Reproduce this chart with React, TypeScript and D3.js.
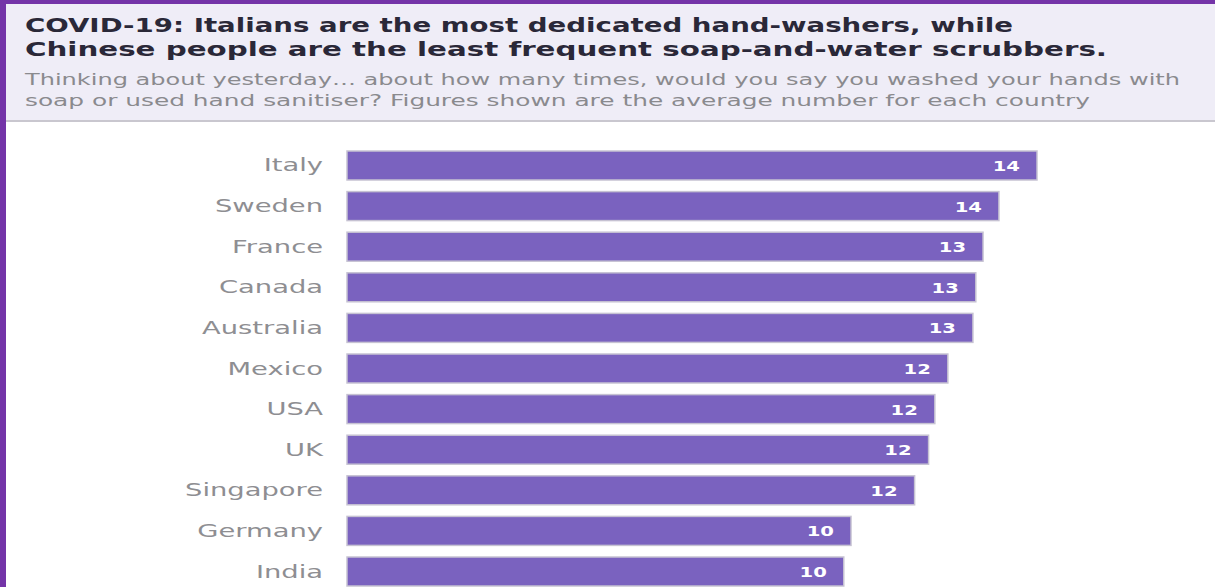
import React from "react";
import * as d3 from "d3";

const countries = ["Italy", "Sweden", "France", "Canada", "Australia", "Mexico", "USA", "UK", "Singapore", "Germany", "India"];
const values = [14.32, 13.53, 13.2, 13.05, 12.99, 12.47, 12.2, 12.07, 11.78, 10.46, 10.31];
const titleLines = [
  "COVID-19: Italians are the most dedicated hand-washers, while",
  "Chinese people are the least frequent soap-and-water scrubbers.",
];
const subtitleLines = [
  "Thinking about yesterday\u2026 about how many times, would you say you washed your hands with",
  "soap or used hand sanitiser? Figures shown are the average number for each country",
];

const W = 1215;
const H = 587;

export default function App() {
  const x = d3.scaleLinear().domain([0, d3.max(values) as number]).range([347, 1037]);
  const y = d3
    .scaleBand<string>()
    .domain(countries)
    .range([151, 586])
    .paddingInner(0.286)
    .paddingOuter(0);
  const bw = y.bandwidth();
  const titleLen = [988, 1082];
  const subLen = [1155, 1065];
  return (
    <div style={{ position: "absolute", left: 0, top: 0 }}>
      <svg width={W} height={H} style={{ display: "block", background: "#ffffff" }}>
        <rect x={0} y={0} width={W} height={121} fill="#efedf7" />
        <rect x={0} y={120} width={W} height={2} fill="#c9c7cf" />
        <rect x={0} y={0} width={W} height={4} fill="#7434a8" />
        <rect x={0} y={0} width={6} height={H} fill="#7434a8" />
        {titleLines.map((t, i) => (
          <text
            key={t}
            x={25}
            y={32 + i * 24}
            fontFamily="DejaVu Sans"
            fontWeight="bold"
            fontSize={20}
            fill="#2a2838"
            textLength={titleLen[i]}
            lengthAdjust="spacingAndGlyphs"
          >
            {t}
          </text>
        ))}
        {subtitleLines.map((t, i) => (
          <text
            key={t}
            x={25}
            y={85 + i * 21}
            fontFamily="DejaVu Sans"
            fontSize={15}
            fill="#8a8a8e"
            textLength={subLen[i]}
            lengthAdjust="spacingAndGlyphs"
          >
            {t}
          </text>
        ))}
        {countries.map((c, i) => {
          const yy = y(c) as number;
          const cy = yy + bw / 2;
          return (
            <g key={c}>
              <rect
                x={x(0)}
                y={yy}
                width={x(values[i]) - x(0)}
                height={bw}
                fill="#7a62bf"
                stroke="#c6c2d2"
                strokeWidth={1.5}
              />
              <text
                transform={`translate(${323},${cy + 6}) scale(1.52,1)`}
                textAnchor="end"
                fontFamily="DejaVu Sans"
                fontSize={18}
                fill="#8e8e92"
              >
                {c}
              </text>
              <text
                transform={`translate(${x(values[i]) - 17},${cy + 5.5}) scale(1.4,1)`}
                textAnchor="end"
                fontFamily="DejaVu Sans"
                fontWeight="bold"
                fontSize={14}
                fill="#ffffff"
              >
                {Math.round(values[i])}
              </text>
            </g>
          );
        })}
      </svg>
    </div>
  );
}
